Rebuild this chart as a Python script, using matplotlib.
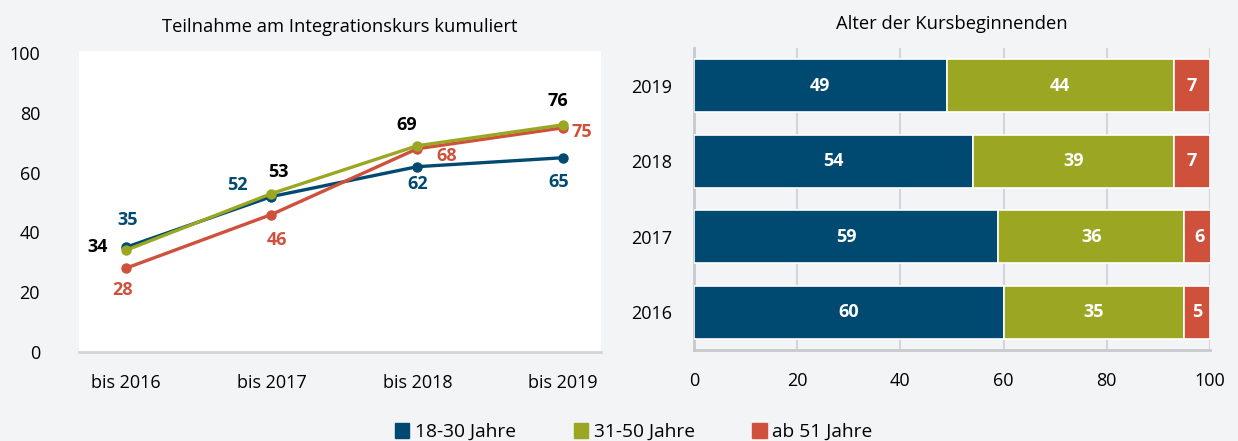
import numpy as np
import matplotlib.pyplot as plt
from matplotlib.patches import Patch

plt.rcParams['font.family'] = ['Open Sans', 'DejaVu Sans']

# daten
jahre_kum = ['bis 2016', 'bis 2017', 'bis 2018', 'bis 2019']
jung = [35, 52, 62, 65]        # 18-30 Jahre
mittel = [34, 53, 69, 76]      # 31-50 Jahre
alt = [28, 46, 68, 75]         # ab 51 Jahre

jahre = ['2016', '2017', '2018', '2019']
anteil_jung = [60, 59, 54, 49]
anteil_mittel = [35, 36, 39, 44]
anteil_alt = [5, 6, 7, 7]

gruppen = ['18-30 Jahre', '31-50 Jahre', 'ab 51 Jahre']

blau = '#004a72'
gruen = '#9ba722'
rot = '#cf513b'
hg = '#f3f4f6'
grau = '#d4d5d8'

fig = plt.figure(figsize=(12.38, 4.41), dpi=100, facecolor=hg)

# linke Grafik
ax1 = fig.add_axes([79 / 1238, 1 - 352 / 441, 522 / 1238, 301 / 441])
ax1.set_facecolor('white')
x = np.arange(len(jahre_kum))
ax1.plot(x, jung, color=blau, lw=2.4, marker='o', ms=6.5, zorder=3)
ax1.plot(x, alt, color=rot, lw=2.4, marker='o', ms=6.5, zorder=4)
ax1.plot(x, mittel, color=gruen, lw=2.4, marker='o', ms=6.5, zorder=5)

# beschriftungen, versatz in pixel
off_jung = [(2, 27), (-34, 12), (0, -17), (-4, -24)]
off_mittel = [(-28, 3), (7, 22), (-11, 21), (-5, 24)]
off_alt = [(-3, -22), (6, -25), (29, -7), (19, -4)]
for werte, offs, farbe in [(jung, off_jung, blau), (mittel, off_mittel, 'black'), (alt, off_alt, rot)]:
    for i, v in enumerate(werte):
        ax1.annotate(str(v), (x[i], v), xytext=offs[i], textcoords='offset pixels',
                     ha='center', va='center', fontsize=13, fontweight='bold', color=farbe, zorder=6)

ax1.set_xlim(-0.32, 3.26)
ax1.set_ylim(0, 100.7)
ax1.set_xticks(x)
ax1.set_xticklabels(jahre_kum)
ax1.set_yticks([0, 20, 40, 60, 80, 100])
ax1.tick_params(length=0, labelsize=13)
ax1.tick_params(axis='y', pad=28)
ax1.tick_params(axis='x', pad=16)
for s in ['top', 'right', 'left']:
    ax1.spines[s].set_visible(False)
ax1.spines['bottom'].set_color(grau)
ax1.spines['bottom'].set_linewidth(2)
ax1.set_title('Teilnahme am Integrationskurs kumuliert', fontsize=13.2, pad=14)

# rechte Grafik
ax2 = fig.add_axes([694 / 1238, 1 - 350 / 441, 516 / 1238, 302 / 441])
ax2.set_facecolor(hg)
y = np.arange(len(jahre))
links = np.zeros(len(jahre))
for werte, farbe in [(anteil_jung, blau), (anteil_mittel, gruen), (anteil_alt, rot)]:
    ax2.barh(y, werte, left=links, height=0.7, color=farbe, edgecolor='white', linewidth=1.2, zorder=3)
    for i, v in enumerate(werte):
        ax2.text(links[i] + v / 2, y[i], str(v), ha='center', va='center',
                 color='white', fontsize=13, fontweight='bold', zorder=4)
    links = links + np.array(werte)

ax2.set_xlim(0, 100)
ax2.set_ylim(-0.5, 3.5)
ax2.set_xticks([0, 20, 40, 60, 80, 100])
ax2.set_yticks(y)
ax2.set_yticklabels(jahre)
ax2.tick_params(length=0, labelsize=13)
ax2.tick_params(axis='y', pad=16)
ax2.tick_params(axis='x', pad=16)
ax2.grid(axis='x', color=grau, lw=1.5, zorder=0)
for s in ['top', 'right']:
    ax2.spines[s].set_visible(False)
for s in ['left', 'bottom']:
    ax2.spines[s].set_color('#c8c9cc')
    ax2.spines[s].set_linewidth(2)
ax2.set_title('Alter der Kursbeginnenden', fontsize=13.2, pad=14)

# legende
handles = [Patch(color=c) for c in [blau, gruen, rot]]
fig.legend(handles, gruppen, loc='center', bbox_to_anchor=(0.512, 0.02), ncol=3,
           frameon=False, fontsize=13.8, handlelength=0.75, handleheight=0.75,
           handletextpad=0.3, columnspacing=3.0)

fig.savefig('out.png', dpi=100, facecolor=hg)
